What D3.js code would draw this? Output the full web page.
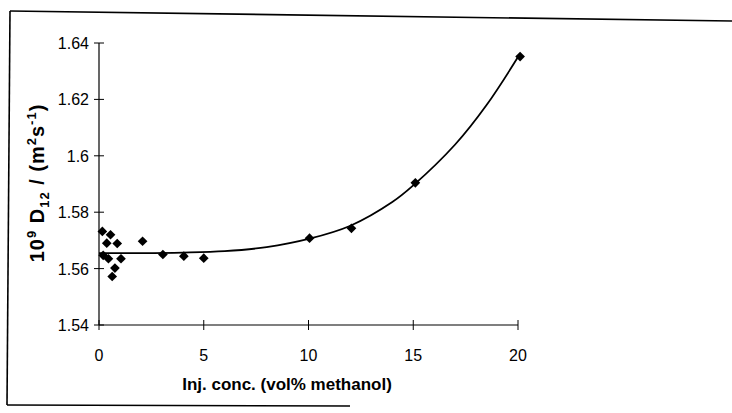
<!DOCTYPE html>
<html>
<head>
<meta charset="utf-8">
<script src="https://cdn.jsdelivr.net/npm/d3@7"></script>
<style>
  body { margin: 0; background: #fff; }
  svg { display: block; font-family: Arial, "Liberation Sans", sans-serif; }
</style>
</head>
<body>
<div id="chart"></div>
<script>
// measured points: injection concentration (vol% methanol) vs 10^9 D12
const concX = [0.16, 0.55, 0.37, 0.87, 2.08, 0.2, 0.45, 1.05, 0.76, 0.63, 3.05, 4.05, 5.0, 10.05, 12.05, 15.1, 20.1];
const diffY = [1.5732, 1.5720, 1.5690, 1.5689, 1.5697, 1.5647, 1.5635, 1.5635, 1.5602, 1.5572, 1.5650, 1.5644, 1.5637, 1.5708, 1.5743, 1.5904, 1.6352];

// trend line
const fitX = [0, 2, 4, 6, 8, 10, 12, 14, 15, 17, 18.5, 20];
const fitY = [1.5655, 1.5655, 1.5657, 1.5662, 1.5676, 1.5705, 1.5752, 1.5836, 1.5895, 1.6040, 1.6180, 1.6350];

const xTicks = [0, 5, 10, 15, 20];
const yTicks = [1.54, 1.56, 1.58, 1.6, 1.62, 1.64];

const W = 732, H = 413;
const margin = {top: 43, right: 214, bottom: 88, left: 99};

const svg = d3.select("#chart").append("svg")
  .attr("width", W)
  .attr("height", H);

// scanned frame around the figure
const frame = svg.append("g").attr("stroke", "#000").attr("stroke-width", 1.6).attr("fill", "none");
frame.append("line").attr("x1", 10).attr("y1", 11).attr("x2", 732).attr("y2", 21);
frame.append("line").attr("x1", 10).attr("y1", 11).attr("x2", 7).attr("y2", 405);
frame.append("line").attr("x1", 7).attr("y1", 405).attr("x2", 350).attr("y2", 406);

const x = d3.scaleLinear().domain([0, 20]).range([margin.left, W - margin.right]);
const y = d3.scaleLinear().domain([1.54, 1.64]).range([H - margin.bottom, margin.top]);

// axes: ticks cross the axis line
const xAxis = svg.append("g").attr("transform", `translate(0,${y(1.54)})`);
xAxis.append("line").attr("x1", x(0)).attr("x2", x(20)).attr("stroke", "#000").attr("stroke-width", 1.2);
xAxis.selectAll(".t").data(xTicks).enter().append("line")
  .attr("x1", d => x(d)).attr("x2", d => x(d))
  .attr("y1", -5).attr("y2", 5)
  .attr("stroke", "#000");
xAxis.selectAll(".lbl").data(xTicks).enter().append("text")
  .attr("x", d => x(d)).attr("y", 36)
  .attr("text-anchor", "middle")
  .style("font-size", "16px")
  .text(d => d);

const yAxis = svg.append("g").attr("transform", `translate(${x(0)},0)`);
yAxis.append("line").attr("y1", y(1.54)).attr("y2", y(1.64)).attr("stroke", "#000").attr("stroke-width", 1.2);
yAxis.selectAll(".t").data(yTicks).enter().append("line")
  .attr("y1", d => y(d)).attr("y2", d => y(d))
  .attr("x1", -5).attr("x2", 5)
  .attr("stroke", "#000");
yAxis.selectAll(".lbl").data(yTicks).enter().append("text")
  .attr("x", -10).attr("y", d => y(d) + 6)
  .attr("text-anchor", "end")
  .style("font-size", "16px")
  .text(d => d);

// fitted curve
const line = d3.line()
  .x((d, i) => x(fitX[i]))
  .y(d => y(d))
  .curve(d3.curveCatmullRom.alpha(0.5));
svg.append("path")
  .attr("d", line(fitY))
  .attr("fill", "none")
  .attr("stroke", "#000")
  .attr("stroke-width", 1.8);

// diamonds
const diamond = d3.symbol().type(d3.symbolDiamond2).size(60);
svg.selectAll(".pt").data(diffY).enter().append("path")
  .attr("d", diamond)
  .attr("transform", (d, i) => `translate(${x(concX[i])},${y(d)})`)
  .attr("fill", "#000");

// axis titles
svg.append("text")
  .attr("x", 287).attr("y", 390)
  .attr("text-anchor", "middle")
  .style("font-size", "17px").style("font-weight", "bold")
  .text("Inj. conc. (vol% methanol)");

const yt = svg.append("text")
  .attr("transform", "translate(44,183) rotate(-90)")
  .attr("text-anchor", "middle")
  .style("font-size", "20px").style("font-weight", "bold")
  .style("letter-spacing", "1px");
yt.append("tspan").text("10");
yt.append("tspan").attr("dy", -8).style("font-size", "13px").text("9");
yt.append("tspan").attr("dy", 8).text(" D");
yt.append("tspan").attr("dy", 5).style("font-size", "13px").text("12");
yt.append("tspan").attr("dy", -5).text(" / (m");
yt.append("tspan").attr("dy", -8).style("font-size", "13px").text("2");
yt.append("tspan").attr("dy", 8).text("s");
yt.append("tspan").attr("dy", -8).style("font-size", "13px").text("-1");
yt.append("tspan").attr("dy", 8).text(")");
</script>
</body>
</html>
